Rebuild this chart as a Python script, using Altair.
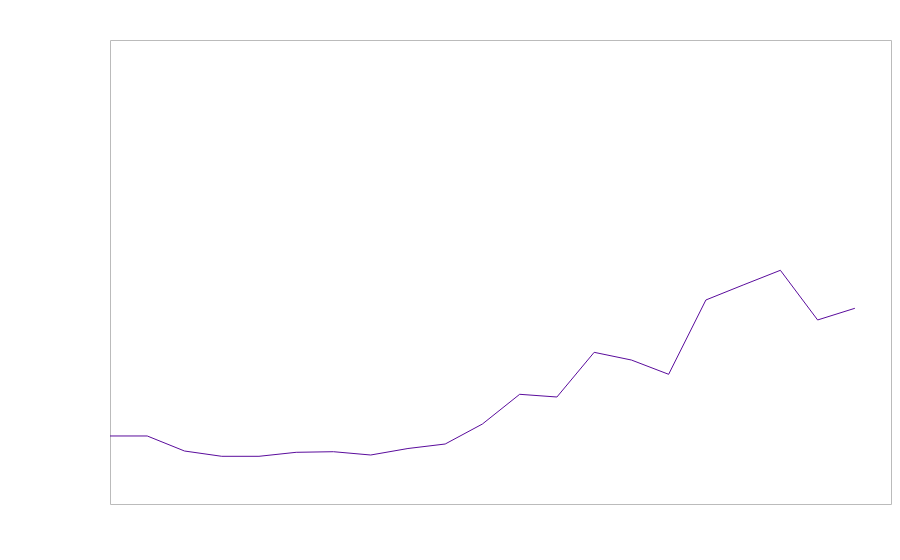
import altair as alt
import pandas as pd

steps = list(range(21))
values = [14.66, 14.66, 11.42, 10.28, 10.28, 11.14, 11.27, 10.56, 11.96, 12.93,
          17.24, 23.64, 23.06, 32.69, 31.03, 27.95, 43.97, 47.2, 50.37, 39.66, 42.18]

df = pd.DataFrame({"step": steps, "value": values})

chart = (
    alt.Chart(df)
    .mark_line(color="#5a0c9c", strokeWidth=1)
    .encode(
        x=alt.X("step:Q", axis=None, scale=alt.Scale(domain=[0, 20.97], nice=False, zero=False)),
        y=alt.Y("value:Q", axis=None, scale=alt.Scale(domain=[0, 100], nice=False)),
    )
    .properties(
        width=781,
        height=464,
        autosize=alt.AutoSizeParams(type="none"),
        padding={"left": 102, "top": 32, "right": 1, "bottom": 1},
    )
    .configure_view(stroke="#bbbbbb", strokeWidth=1)
)

chart.save("out.html", embed_options={"renderer": "svg", "actions": False})
